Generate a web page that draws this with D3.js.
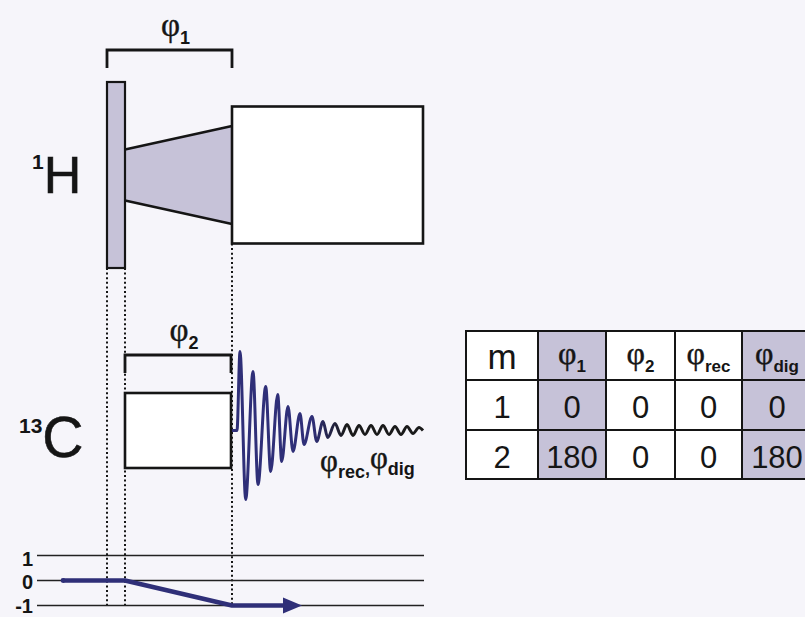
<!DOCTYPE html>
<html>
<head>
<meta charset="utf-8">
<script src="https://cdn.jsdelivr.net/npm/d3@7"></script>
<style>
  body { margin: 0; background: #f6f5fa; }
  svg { display: block; }
</style>
</head>
<body>
<svg id="chart" width="805" height="617"></svg>
<script>
// ---- sequence data (time in arbitrary units, amplitude relative to channel max) ----
const channelNames = ["H", "C"];
const channelIsotopes = ["1", "13"];

const hPulseTimes = [0, 18];
const hPulseAmp = 0.93;
const hRampTimes = [18, 125];
const hRampAmps = [0.255, 0.49];
const hDecTimes = [125, 316];
const hDecAmp = 0.685;

const cContactTimes = [18, 124];
const cContactAmp = 0.375;

// FID extrema
const fidTimes = [125, 130, 133, 138.7, 146, 151, 158.7, 163.7, 170.7, 174.7, 181, 186, 193, 197,
                  205, 209.7, 216, 220.7, 228, 234, 240, 246, 252, 258, 264, 270, 276, 282, 288,
                  294, 300, 306, 312, 316];
const fidAmps = [0, 0, 0.79, -0.69, 0.59, -0.54, 0.44, -0.41, 0.36, -0.31, 0.24, -0.21, 0.17, -0.14,
                 0.14, -0.11, 0.09, -0.07, 0.07, -0.05, 0.06, -0.05, 0.05, -0.04, 0.05, -0.04, 0.05,
                 -0.04, 0.04, -0.04, 0.04, -0.03, 0.03, 0];

const phaseBracketSubs = ["1", "2"];
const phaseBracketTimes = [[0, 125], [18, 124]];
const fidPhaseSubs = ["rec", "dig"];

const coherenceLevels = [1, 0, -1];
const pathTimes = [-44, 18, 125, 195];
const pathLevels = [0, 0, -1, -1];
const dottedTimes = [0, 18, 125];

const tableHeader = ["m", "1", "2", "rec", "dig"];
const tableRows = [[1, 0, 0, 0, 0], [2, 180, 0, 0, 180]];
const shadedColumns = [1, 4];

// ---- layout ----
const svg = d3.select("#chart");
const ink = "#151515";
const navy = "#2f2f78";
const shade = "#c6c2d8";
const sans = "'Liberation Sans', Arial, sans-serif";
const serif = "'Liberation Serif', 'Times New Roman', serif";

const x = d3.scaleLinear().domain([0, 316]).range([107, 423]);
const yH = d3.scaleLinear().domain([-1, 1]).range([275, 75]);
const yC = d3.scaleLinear().domain([-1, 1]).range([530.5, 330.5]);
const yQ = d3.scaleLinear().domain([-1, 1]).range([605.5, 555.5]);

// dotted timing guides (drawn first, shapes go on top)
svg.append("g").selectAll("line")
  .data(dottedTimes)
  .enter().append("line")
  .attr("x1", d => x(d)).attr("x2", d => x(d))
  .attr("y1", d => d === 125 ? yH(-hDecAmp) : yH(-hPulseAmp))
  .attr("y2", yQ(-1))
  .attr("stroke", ink)
  .attr("stroke-width", 2)
  .attr("stroke-dasharray", "2,2.6");

// helper: φ with bold subscript
function phiLabel(g, px, py, sub, size, subSize, anchor) {
  const t = g.append("text")
    .attr("x", px).attr("y", py)
    .attr("text-anchor", anchor || "middle")
    .attr("fill", ink);
  t.append("tspan").text("φ")
    .attr("font-family", serif)
    .attr("font-size", size)
    .attr("stroke", ink).attr("stroke-width", 0.4);
  t.append("tspan").text(sub)
    .attr("font-family", sans)
    .attr("font-weight", "bold")
    .attr("font-size", subSize)
    .attr("dy", size * 0.24);
  return t;
}

// ---- 1H channel ----
const gH = svg.append("g");
gH.append("path")
  .attr("d", d3.line()([
    [x(hRampTimes[0]), yH(hRampAmps[0])], [x(hRampTimes[1]), yH(hRampAmps[1])],
    [x(hRampTimes[1]), yH(-hRampAmps[1])], [x(hRampTimes[0]), yH(-hRampAmps[0])]
  ]))
  .attr("fill", shade).attr("stroke", "none");
gH.append("path")
  .attr("d", d3.line()([[x(hRampTimes[0]), yH(hRampAmps[0])], [x(hRampTimes[1]), yH(hRampAmps[1])]]))
  .attr("stroke", ink).attr("stroke-width", 2.5);
gH.append("path")
  .attr("d", d3.line()([[x(hRampTimes[0]), yH(-hRampAmps[0])], [x(hRampTimes[1]), yH(-hRampAmps[1])]]))
  .attr("stroke", ink).attr("stroke-width", 2.5);
gH.append("rect")
  .attr("x", x(hPulseTimes[0])).attr("width", x(hPulseTimes[1]) - x(hPulseTimes[0]))
  .attr("y", yH(hPulseAmp)).attr("height", yH(-hPulseAmp) - yH(hPulseAmp))
  .attr("fill", shade).attr("stroke", ink).attr("stroke-width", 2.2);
gH.append("rect")
  .attr("x", x(hDecTimes[0])).attr("width", x(hDecTimes[1]) - x(hDecTimes[0]))
  .attr("y", yH(hDecAmp)).attr("height", yH(-hDecAmp) - yH(hDecAmp))
  .attr("fill", "#fff").attr("stroke", ink).attr("stroke-width", 2.6);

// ---- 13C channel ----
const gC = svg.append("g");
gC.append("rect")
  .attr("x", x(cContactTimes[0])).attr("width", x(cContactTimes[1]) - x(cContactTimes[0]))
  .attr("y", yC(cContactAmp)).attr("height", yC(-cContactAmp) - yC(cContactAmp))
  .attr("fill", "#fff").attr("stroke", ink).attr("stroke-width", 2.6);

const fidPts = fidTimes.map((t, i) => [x(t), yC(fidAmps[i])]);
const grad = svg.append("defs").append("linearGradient")
  .attr("id", "fidGrad").attr("gradientUnits", "userSpaceOnUse")
  .attr("x1", x(125)).attr("x2", x(316)).attr("y1", 0).attr("y2", 0);
grad.append("stop").attr("offset", "0%").attr("stop-color", navy);
grad.append("stop").attr("offset", "42%").attr("stop-color", navy);
grad.append("stop").attr("offset", "60%").attr("stop-color", "#1a1a1a");
grad.append("stop").attr("offset", "100%").attr("stop-color", "#1a1a1a");
gC.append("path")
  .attr("d", d3.line().curve(d3.curveMonotoneX)(fidPts))
  .attr("fill", "none")
  .attr("stroke", "url(#fidGrad)")
  .attr("stroke-width", 3)
  .attr("stroke-linejoin", "round");

// ---- phase brackets ----
const bracketY = [50, 355];
phaseBracketTimes.forEach((tt, i) => {
  svg.append("path")
    .attr("d", `M${x(tt[0])},${bracketY[i] + 18}V${bracketY[i]}H${x(tt[1])}V${bracketY[i] + 18}`)
    .attr("fill", "none").attr("stroke", ink).attr("stroke-width", 2.8);
  phiLabel(svg, (x(tt[0]) + x(tt[1])) / 2 + 6, bracketY[i] - 14, phaseBracketSubs[i], 33, 18);
});

// receiver / digitiser phase label
const fl = svg.append("text").attr("x", 320).attr("y", 471).attr("fill", ink);
fidPhaseSubs.forEach((s, i) => {
  fl.append("tspan").text("φ").attr("font-family", serif).attr("font-size", 31)
    .attr("stroke", ink).attr("stroke-width", 0.4)
    .attr("dy", i === 0 ? 0 : -7);
  fl.append("tspan").text(s).attr("font-family", sans).attr("font-weight", "bold")
    .attr("font-size", 18).attr("dy", 7);
  if (i === 0) fl.append("tspan").text(",").attr("font-family", sans).attr("font-weight", "bold")
    .attr("font-size", 18).attr("dy", -3);
});

// ---- channel labels ----
const labelBase = [193, 457];
const labelX = [32, 19];
channelNames.forEach((n, i) => {
  const t = svg.append("text").attr("x", labelX[i]).attr("y", labelBase[i]).attr("fill", ink)
    .attr("font-family", sans);
  t.append("tspan").text(channelIsotopes[i]).attr("font-weight", "bold").attr("font-size", 21)
    .attr("dy", -24);
  t.append("tspan").text(n).attr("font-size", i === 0 ? 52 : 57).attr("dy", 24)
    .attr("stroke", ink).attr("stroke-width", 0.6);
});

// ---- coherence transfer pathway ----
const gQ = svg.append("g");
gQ.selectAll("line")
  .data(coherenceLevels)
  .enter().append("line")
  .attr("x1", x(-70)).attr("x2", x(317))
  .attr("y1", d => yQ(d)).attr("y2", d => yQ(d))
  .attr("stroke", "#222").attr("stroke-width", 1.3);
const levelLabelShift = { "1": 10.5, "0": 8.5, "-1": 7 };
gQ.selectAll("text")
  .data(coherenceLevels)
  .enter().append("text")
  .attr("x", 33).attr("y", d => yQ(d) + levelLabelShift[d])
  .attr("text-anchor", "end")
  .attr("font-family", sans).attr("font-weight", "bold").attr("font-size", 20)
  .attr("fill", ink)
  .text(d => d);

const headLen = 19, headHalf = 8;
const pathPts = pathTimes.map((t, i) => [x(t), yQ(pathLevels[i])]);
const tip = pathPts[pathPts.length - 1];
pathPts[pathPts.length - 1] = [tip[0] - headLen + 2, tip[1]];
gQ.append("path")
  .attr("d", d3.line()(pathPts))
  .attr("fill", "none").attr("stroke", navy).attr("stroke-width", 4.5)
  .attr("stroke-linejoin", "round");
gQ.append("circle").attr("cx", pathPts[0][0]).attr("cy", pathPts[0][1]).attr("r", 2.4).attr("fill", navy);
gQ.append("path")
  .attr("d", `M${tip[0]},${tip[1]}L${tip[0] - headLen},${tip[1] - headHalf}L${tip[0] - headLen},${tip[1] + headHalf}Z`)
  .attr("fill", navy);

// ---- phase table ----
const colEdges = [466, 538, 606, 675, 742, 812];
const rowEdges = [331, 380, 430, 479];
const gT = svg.append("g");
const allRows = [tableHeader].concat(tableRows);
allRows.forEach((row, r) => {
  row.forEach((v, c) => {
    const x0 = colEdges[c], x1 = colEdges[c + 1], y0 = rowEdges[r], y1 = rowEdges[r + 1];
    gT.append("rect")
      .attr("x", x0).attr("y", y0).attr("width", x1 - x0).attr("height", y1 - y0)
      .attr("fill", shadedColumns.includes(c) ? shade : "#fff");
    const cx = (x0 + x1) / 2;
    if (r === 0 && c > 0) {
      phiLabel(gT, cx, y0 + 33, v, 32, 17);
    } else {
      gT.append("text")
        .attr("x", cx).attr("y", y0 + 38)
        .attr("text-anchor", "middle")
        .attr("font-family", sans).attr("font-size", r === 0 ? 35 : 31)
        .attr("fill", ink)
        .text(v);
    }
  });
});
colEdges.forEach(cx => {
  gT.append("line").attr("x1", cx).attr("x2", cx).attr("y1", rowEdges[0]).attr("y2", rowEdges[3])
    .attr("stroke", ink).attr("stroke-width", 2);
});
rowEdges.forEach(ry => {
  gT.append("line").attr("x1", colEdges[0] - 1).attr("x2", colEdges[5]).attr("y1", ry).attr("y2", ry)
    .attr("stroke", ink).attr("stroke-width", 2);
});
</script>
</body>
</html>
